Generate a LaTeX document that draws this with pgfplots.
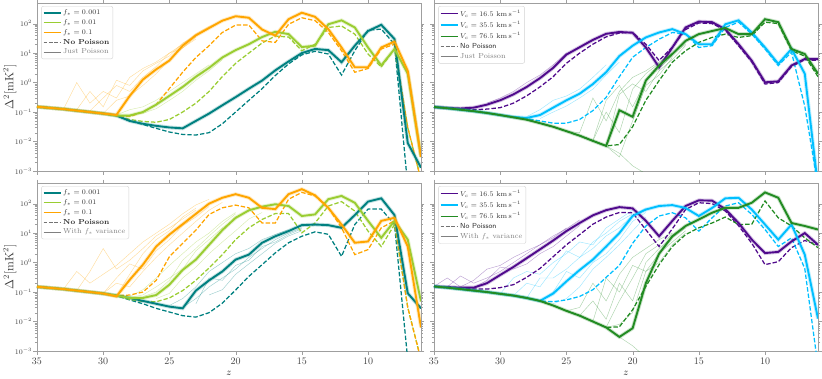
\documentclass[border=0pt]{standalone}
\usepackage{pgfplots}
\usepackage{pgfplotstable}
\pgfplotsset{compat=1.18}
\definecolor{cteal}{RGB}{0,128,128}
\definecolor{cygreen}{RGB}{154,205,50}
\definecolor{corange}{RGB}{255,165,0}
\definecolor{cpurple}{RGB}{80,10,140}
\definecolor{ccyan}{RGB}{0,191,255}
\definecolor{cgreen}{RGB}{34,139,34}

\pgfplotstableread{
z ts td gs gd os od
35 0.151 0.151 0.151 0.151 0.151 0.151
34 0.138 0.138 0.138 0.138 0.138 0.138
33 0.126 0.126 0.126 0.126 0.126 0.126
32 0.112 0.112 0.112 0.112 0.112 0.112
31 0.100 0.100 0.100 0.100 0.100 0.100
30 0.089 0.089 0.089 0.089 0.089 0.089
29 0.076 0.076 0.076 0.076 0.080 0.076
28 0.050 0.050 0.076 0.056 0.35 0.070
27 0.040 0.038 0.10 0.048 1.26 0.10
26 0.034 0.028 0.178 0.045 2.8 0.178
25 0.030 0.021 0.355 0.056 5.6 0.63
24 0.028 0.0174 0.71 0.10 17.8 2.24
23 0.050 0.0166 1.58 0.20 40 7.1
22 0.089 0.020 3.16 0.50 71 17.8
21 0.17 0.040 7.1 1.6 126 50
20 0.32 0.10 12.6 4.5 178 89
19 0.62 0.25 20 10 158 89
18 1.17 0.62 35 22 63 26
17 2.6 1.74 53 38 39 23
16 5.2 4.3 44 35 141 95
15 10 8.7 16 12 234 158
14 13.8 11.5 17.8 20 170 126
13 12.6 9.3 95 74 65 50
12 4.9 1.8 129 83 15.5 12
11 17.8 12 74 44 3.3 2.24
10 56 60 15.5 9.3 3.3 3.0
9 91 65 3.8 3.4 15.5 13.8
8 30 20 13.8 13.8 24.5 20
7 0.0089 0.0003 2.0 0.03 2.5 0.03
6 0.0013 0.0003 0.003 0.0005 0.003 0.0005
}\tabTL

\pgfplotstableread{
z ps pd cs cd gs gd
35 0.148 0.148 0.148 0.148 0.148 0.148
34 0.138 0.138 0.135 0.135 0.135 0.135
33 0.132 0.126 0.12 0.12 0.12 0.12
32 0.141 0.12 0.107 0.107 0.107 0.107
31 0.178 0.126 0.093 0.093 0.093 0.093
30 0.251 0.141 0.079 0.079 0.079 0.079
29 0.398 0.20 0.068 0.068 0.066 0.066
28 0.71 0.355 0.063 0.06 0.055 0.055
27 1.41 0.71 0.079 0.05 0.042 0.042
26 3.16 1.58 0.141 0.042 0.0316 0.0316
25 8.9 4.5 0.25 0.042 0.0224 0.0224
24 15.8 10 0.42 0.056 0.0158 0.0158
23 28 20 0.89 0.112 0.0105 0.0105
22 45 35.5 2.24 0.316 0.0071 0.0071
21 52 48 7.9 1.58 0.115 0.0079
20 49 50 17.8 7.2 0.069 0.0316
19 15.5 20 34 15.5 1.17 0.25
18 3.3 5.6 50 29.5 3.8 1.17
17 15.5 15.8 65 50 9.3 4.9
16 74 63 44 44 26 12
15 117 105 20 15.5 44 23
14 112 100 20 17.8 56 34
13 65 60 95 74 71 44
12 20 17.8 129 112 44 34
11 5.5 5.0 50 44 44 39
10 1.02 0.89 15.5 13.8 141 112
9 1.1 1.0 4.3 3.8 112 100
8 3.8 3.5 13.8 10.7 13.8 12
7 6.3 6.0 2.0 0.158 9.3 7.9
6 6.3 5.6 0.0003 0.0003 2.0 1.58
}\tabTR

\pgfplotstableread{
z ts td gs gd os od
35 0.151 0.151 0.151 0.151 0.151 0.151
34 0.138 0.138 0.138 0.138 0.138 0.138
33 0.126 0.126 0.126 0.126 0.126 0.126
32 0.112 0.112 0.112 0.112 0.112 0.112
31 0.100 0.100 0.100 0.100 0.100 0.100
30 0.089 0.089 0.089 0.089 0.089 0.089
29 0.076 0.076 0.076 0.076 0.071 0.076
28 0.063 0.054 0.063 0.056 0.26 0.079
27 0.050 0.040 0.063 0.048 0.85 0.10
26 0.040 0.028 0.079 0.047 3.5 0.25
25 0.032 0.021 0.178 0.063 8.9 1.58
24 0.028 0.0158 0.56 0.112 20 4.5
23 0.112 0.0141 1.26 0.25 45 12.6
22 0.25 0.020 4.0 0.66 100 43
21 0.50 0.042 12.6 1.86 158 72
20 1.26 0.117 33 6.0 209 89
19 1.86 0.34 59 15.1 158 72
18 4.7 0.85 79 29 72 22
17 7.8 2.14 95 46 65 22
16 11.7 4.7 83 46 209 141
15 18.6 7.8 38 10.2 309 240
14 19.5 11 43 22 191 182
13 18.6 9.1 141 83 72 72
12 15.1 1.62 182 117 19.5 15.1
11 40.7 19.5 107 56 4.7 1.86
10 117 65 26 11.7 5.2 2.75
9 151 65 6.9 3.5 26 15.1
8 40.7 19.5 26 19.5 33 26
7 0.091 0.0005 6.0 0.03 3.5 0.03
6 0.028 0.0003 0.048 0.0005 0.0063 0.0005
}\tabBL

\pgfplotstableread{
z ps pd cs cd gs gd
35 0.155 0.155 0.155 0.155 0.155 0.155
34 0.148 0.145 0.141 0.141 0.141 0.141
33 0.141 0.135 0.126 0.126 0.126 0.126
32 0.141 0.126 0.112 0.112 0.112 0.112
31 0.20 0.126 0.10 0.10 0.10 0.10
30 0.38 0.141 0.087 0.087 0.087 0.087
29 0.71 0.178 0.076 0.076 0.076 0.076
28 1.41 0.316 0.063 0.063 0.063 0.063
27 2.8 0.63 0.05 0.05 0.05 0.05
26 5.6 1.58 0.089 0.047 0.035 0.035
25 11.7 4.0 0.23 0.054 0.023 0.023
24 22 8.9 0.56 0.071 0.0158 0.0158
23 40 20 1.26 0.12 0.010 0.010
22 60 35 3.5 0.316 0.0063 0.0063
21 76 50 10 0.8 0.003 0.0066
20 69 49 38 4.5 0.0059 0.025
19 26 13 63 17.4 0.2 0.155
18 7.8 3.5 83 38 2.0 0.85
17 26 14 89 49 7.8 3.5
16 83 63 71 33 17.4 8.9
15 129 107 38 11.7 29 15.1
14 126 100 71 33 49 22
13 65 56 151 83 72 35
12 22 17.8 158 107 72 19.5
11 6.0 4.5 63 43 107 20
10 2.1 0.85 19.5 13.2 240 123
9 2.3 1.07 6.0 3.5 158 33
8 5.2 3.2 19.5 6.9 22 17.4
7 10 5.6 1.86 0.63 17.4 6.9
6 4.0 4.0 0.0126 0.0003 13.2 3.2
}\tabBR

\newcommand\mySolid[3]{%
  \addplot[#1, line width=3.8pt, opacity=0.24, forget plot] table[x=z,y=#3]{#2};
  \addplot[#1, line width=1.9pt, forget plot] table[x=z,y=#3]{#2};}
\newcommand\myDash[3]{%
  \addplot[#1, line width=1.25pt, dash pattern=on 4.4pt off 2pt, forget plot] table[x=z,y=#3]{#2};}
\tikzset{faint/.style={line width=0.45pt, opacity=0.38}}

\begin{document}
\begin{tikzpicture}
\path[use as bounding box] (-37pt,-27pt) rectangle (785pt,351pt);

%% ---------------- Top left ----------------
\begin{axis}[width=384pt, height=168pt, scale only axis, anchor=south west, at={(0pt,180pt)},
    xmin=6, xmax=35, x dir=reverse, ymode=log, ymin=1e-3, ymax=500,
    xtick={10,15,20,25,30,35}, ytick={1e-3,1e-2,1e-1,1,10,100}, xticklabels={},
    tick align=outside, major tick length=3.5pt, minor tick length=2pt,
    axis line style={gray!75}, tick style={gray!75},
    tick label style={text=black!75},
    yticklabel style={font=\fontsize{7}{8}\selectfont, inner sep=1.2pt},
    legend cell align=left,
    legend style={at={(0.011,0.982)}, anchor=north west, draw=gray!35,
      rounded corners=2pt, font=\fontsize{7.3}{8.6}\selectfont, text=black!80,
      inner sep=1.5pt, row sep=-0.6pt},
    ylabel={$\Delta^2[\mathrm{mK}^2]$},
    ylabel style={font=\fontsize{11.5}{13}\selectfont, text=black!80, at={(axis description cs:-0.071,0.5)}, anchor=center}]
\addlegendimage{cteal, line width=1.2pt}\addlegendentry{$f_* = 0.001$}
\addlegendimage{cygreen, line width=1.2pt}\addlegendentry{$f_* = 0.01$}
\addlegendimage{corange, line width=1.2pt}\addlegendentry{$f_* = 0.1$}
\addlegendimage{gray!90!black, line width=1.1pt, dash pattern=on 3.6pt off 1.8pt}\addlegendentry{\textbf{No Poisson}}
\addlegendimage{gray, line width=1.2pt}\addlegendentry{\textcolor{gray}{Just Poisson}}
\addplot[faint, corange, forget plot] coordinates {(35,0.151)(34,0.138)(33,0.126)(32,1.0)(31,0.2)(30,0.5)(29,0.3)(28,1.5)(27,3)(26,5)(25,10)(24,20)(23,45)(22,80)(21,120)};
\addplot[faint, corange, forget plot] coordinates {(34,0.138)(33,0.13)(32,0.12)(31,0.5)(30,0.15)(29,1.2)(28,0.8)(27,2.5)(26,4.5)(25,8)(24,22)(23,38)(22,75)};
\addplot[faint, corange, forget plot] coordinates {(33,0.126)(32,0.112)(31,0.11)(30,0.3)(29,0.8)(28,0.5)(27,1.5)(26,3.5)(25,10)(24,15)(23,35)};
\addplot[faint, corange, forget plot] coordinates {(31,0.1)(30,0.09)(29,0.25)(28,0.35)(27,0.8)(26,2.0)(25,6)(24,15)(23,30)};
\addplot[faint, cygreen, forget plot] coordinates {(29,0.08)(28,0.12)(27,0.15)(26,0.25)(25,0.5)(24,1.0)(23,2)(22,4)};
\addplot[faint, cygreen, forget plot] coordinates {(28,0.08)(27,0.09)(26,0.13)(25,0.25)(24,0.5)(23,1.2)(22,2.5)(21,6)};
\myDash{cteal}{\tabTL}{td}
\myDash{cygreen}{\tabTL}{gd}
\myDash{corange}{\tabTL}{od}
\mySolid{cteal}{\tabTL}{ts}
\mySolid{cygreen}{\tabTL}{gs}
\mySolid{corange}{\tabTL}{os}
\end{axis}

%% ---------------- Top right ----------------
\begin{axis}[width=384pt, height=168pt, scale only axis, anchor=south west, at={(397pt,180pt)},
    xmin=6, xmax=35, x dir=reverse, ymode=log, ymin=1e-3, ymax=500,
    xtick={10,15,20,25,30,35}, ytick={1e-3,1e-2,1e-1,1,10,100}, xticklabels={}, yticklabels={},
    tick align=outside, major tick length=3.5pt, minor tick length=2pt,
    axis line style={gray!75}, tick style={gray!75},
    tick label style={text=black!75},
    legend cell align=left,
    legend style={at={(0.011,0.982)}, anchor=north west, draw=gray!35,
      rounded corners=2pt, font=\fontsize{7.3}{8.6}\selectfont, text=black!80,
      inner sep=1.5pt, row sep=-0.6pt}]
\addlegendimage{cpurple, line width=1.2pt}\addlegendentry{$V_c = 16.5\ \mathrm{km\,s^{-1}}$}
\addlegendimage{ccyan, line width=1.2pt}\addlegendentry{$V_c = 35.5\ \mathrm{km\,s^{-1}}$}
\addlegendimage{cgreen, line width=1.2pt}\addlegendentry{$V_c = 76.5\ \mathrm{km\,s^{-1}}$}
\addlegendimage{gray!90!black, line width=1.1pt, dash pattern=on 3.6pt off 1.8pt}\addlegendentry{\textsf{No Poisson}}
\addlegendimage{gray, line width=1.2pt}\addlegendentry{\textcolor{gray}{Just Poisson}}
\addplot[faint, cgreen, forget plot] coordinates {(25,0.022)(24,0.02)(23,0.3)(22,0.05)(21,0.5)(20,1.5)(19,2.5)(18,5)(17,10)};
\addplot[faint, cgreen, forget plot] coordinates {(24,0.016)(23,0.011)(22,0.25)(21,0.8)(20,0.15)(19,1.2)(18,3)(17,8)};
\addplot[faint, cgreen, forget plot] coordinates {(23,0.0105)(22,0.1)(21,0.02)(20,0.6)(19,2)(18,4.5)(17,9)(16,20)};
\addplot[faint, cgreen, forget plot] coordinates {(22,0.0071)(21,0.4)(20,0.9)(19,0.5)(18,2.5)(17,6)(16,18)};
\addplot[faint, cgreen, forget plot] coordinates {(22,0.007)(21,0.003)(20,0.05)(19,0.8)(18,1.8)(17,7)};
\addplot[faint, cgreen, forget plot] coordinates {(22,0.0071)(21,0.004)(20,0.0015)(19,0.0008)};
\addplot[faint, ccyan, forget plot] coordinates {(28,0.07)(27,0.12)(26,0.25)(25,0.35)(24,0.6)(23,1.5)(22,4)};
\addplot[faint, ccyan, forget plot] coordinates {(27,0.06)(26,0.1)(25,0.16)(24,0.3)(23,0.6)(22,1.8)(21,5)};
\addplot[faint, cpurple, forget plot] coordinates {(31,0.2)(30,0.3)(29,0.5)(28,1.0)(27,1.8)(26,4)(25,10)};
\myDash{cpurple}{\tabTR}{pd}
\myDash{ccyan}{\tabTR}{cd}
\myDash{cgreen}{\tabTR}{gd}
\mySolid{cpurple}{\tabTR}{ps}
\mySolid{ccyan}{\tabTR}{cs}
\mySolid{cgreen}{\tabTR}{gs}
\end{axis}

%% ---------------- Bottom left ----------------
\begin{axis}[width=384pt, height=168pt, scale only axis, anchor=south west, at={(0pt,0pt)},
    xmin=6, xmax=35, x dir=reverse, ymode=log, ymin=1e-3, ymax=500,
    xtick={10,15,20,25,30,35}, ytick={1e-3,1e-2,1e-1,1,10,100},
    tick align=outside, major tick length=3.5pt, minor tick length=2pt,
    axis line style={gray!75}, tick style={gray!75},
    tick label style={text=black!75},
    yticklabel style={font=\fontsize{7}{8}\selectfont, inner sep=1.2pt},
    legend cell align=left,
    legend style={at={(0.011,0.982)}, anchor=north west, draw=gray!35,
      rounded corners=2pt, font=\fontsize{7.3}{8.6}\selectfont, text=black!80,
      inner sep=1.5pt, row sep=-0.6pt},
    xlabel={$z$},
    ylabel={$\Delta^2[\mathrm{mK}^2]$},
    ylabel style={font=\fontsize{11.5}{13}\selectfont, text=black!80, at={(axis description cs:-0.071,0.5)}, anchor=center}]
\addlegendimage{cteal, line width=1.2pt}\addlegendentry{$f_* = 0.001$}
\addlegendimage{cygreen, line width=1.2pt}\addlegendentry{$f_* = 0.01$}
\addlegendimage{corange, line width=1.2pt}\addlegendentry{$f_* = 0.1$}
\addlegendimage{gray!90!black, line width=1.1pt, dash pattern=on 3.6pt off 1.8pt}\addlegendentry{\textbf{No Poisson}}
\addlegendimage{gray, line width=1.2pt}\addlegendentry{\textcolor{gray}{With $f_*$ variance}}
\addplot[faint, corange, forget plot] coordinates {(34,0.14)(33,0.126)(32,0.5)(31,0.2)(30,0.4)(29,0.8)(28,2)(27,5)(26,10)(25,20)(24,45)(23,90)(22,140)};
\addplot[faint, corange, forget plot] coordinates {(32,0.112)(31,0.5)(30,3.0)(29,0.6)(28,1.2)(27,3)(26,8)(25,15)(24,30)(23,60)};
\addplot[faint, corange, forget plot] coordinates {(31,0.1)(30,0.09)(29,0.3)(28,0.9)(27,0.6)(26,2.5)(25,6)(24,18)(23,35)(22,80)};
\addplot[faint, corange, forget plot] coordinates {(30,0.09)(29,0.2)(28,0.15)(27,0.5)(26,1.5)(25,4)(24,10)(23,25)(22,60)(21,110)};
\addplot[faint, corange, forget plot] coordinates {(29,0.076)(28,0.4)(27,2)(26,6)(25,12)(24,35)(23,70)};
\addplot[faint, cygreen, forget plot] coordinates {(28,0.07)(27,0.12)(26,0.3)(25,0.8)(24,2)(23,5)(22,10)(21,25)(20,50)};
\addplot[faint, cygreen, forget plot] coordinates {(28,0.065)(27,0.08)(26,0.15)(25,0.3)(24,0.6)(23,2.5)(22,6)(21,15)(20,30)(19,60)};
\addplot[faint, cygreen, forget plot] coordinates {(27,0.07)(26,0.1)(25,0.25)(24,1.2)(23,3)(22,8)(21,20)(20,45)};
\addplot[faint, cygreen, forget plot] coordinates {(26,0.06)(25,0.09)(24,0.3)(23,0.7)(22,2)(21,5)(20,12)(19,30)(18,50)};
\addplot[faint, cteal, forget plot] coordinates {(25,0.035)(24,0.06)(23,0.15)(22,0.5)(21,1.0)(20,2.0)(19,3)(18,6)(17,9)(16,13)};
\addplot[faint, cteal, forget plot] coordinates {(24,0.03)(23,0.06)(22,0.15)(21,0.3)(20,0.6)(19,1.5)(18,3)(17,6)(16,10)(15,15)};
\addplot[faint, cteal, forget plot] coordinates {(23,0.04)(22,0.3)(21,0.25)(20,0.8)(19,1.2)(18,3.5)(17,5)(16,9)(15,14)};
\addplot[faint, cteal, forget plot] coordinates {(22,0.08)(21,0.12)(20,0.4)(19,0.9)(18,2)(17,4.5)(16,8)(15,12)};
\myDash{cteal}{\tabBL}{td}
\myDash{cygreen}{\tabBL}{gd}
\myDash{corange}{\tabBL}{od}
\mySolid{cteal}{\tabBL}{ts}
\mySolid{cygreen}{\tabBL}{gs}
\mySolid{corange}{\tabBL}{os}
\end{axis}

%% ---------------- Bottom right ----------------
\begin{axis}[width=384pt, height=168pt, scale only axis, anchor=south west, at={(397pt,0pt)},
    xmin=6, xmax=35, x dir=reverse, ymode=log, ymin=1e-3, ymax=500,
    xtick={10,15,20,25,30,35}, ytick={1e-3,1e-2,1e-1,1,10,100}, yticklabels={},
    tick align=outside, major tick length=3.5pt, minor tick length=2pt,
    axis line style={gray!75}, tick style={gray!75},
    tick label style={text=black!75},
    legend cell align=left,
    legend style={at={(0.011,0.982)}, anchor=north west, draw=gray!35,
      rounded corners=2pt, font=\fontsize{7.3}{8.6}\selectfont, text=black!80,
      inner sep=1.5pt, row sep=-0.6pt},
    xlabel={$z$}]
\addlegendimage{cpurple, line width=1.2pt}\addlegendentry{$V_c = 16.5\ \mathrm{km\,s^{-1}}$}
\addlegendimage{ccyan, line width=1.2pt}\addlegendentry{$V_c = 35.5\ \mathrm{km\,s^{-1}}$}
\addlegendimage{cgreen, line width=1.2pt}\addlegendentry{$V_c = 76.5\ \mathrm{km\,s^{-1}}$}
\addlegendimage{gray!90!black, line width=1.1pt, dash pattern=on 3.6pt off 1.8pt}\addlegendentry{\textsf{No Poisson}}
\addlegendimage{gray, line width=1.2pt}\addlegendentry{\textcolor{gray}{With $f_*$ variance}}
\addplot[faint, cpurple, forget plot] coordinates {(35,0.155)(34,0.3)(33,0.15)(32,0.25)(31,0.6)(30,0.8)(29,1.5)(28,2.5)(27,4)(26,7)(25,15)};
\addplot[faint, cpurple, forget plot] coordinates {(34,0.15)(33,0.35)(32,0.2)(31,0.3)(30,0.5)(29,1.0)(28,2)(27,4)(26,8)(25,14)(24,28)};
\addplot[faint, cpurple, forget plot] coordinates {(32,0.14)(31,0.25)(30,0.7)(29,0.6)(28,0.9)(27,2)(26,3.5)(25,8)(24,18)};
\addplot[faint, ccyan, forget plot] coordinates {(30,0.087)(29,0.3)(28,0.5)(27,0.4)(26,1.0)(25,2)(24,5)(23,4)(22,15)(21,30)(20,60)};
\addplot[faint, ccyan, forget plot] coordinates {(29,0.076)(28,0.2)(27,0.15)(26,0.6)(25,2.5)(24,1.5)(23,5)(22,10)(21,25)(20,45)};
\addplot[faint, ccyan, forget plot] coordinates {(28,0.063)(27,0.3)(26,0.3)(25,0.6)(24,1.5)(23,3)(22,8)(21,15)(20,40)(19,70)};
\addplot[faint, ccyan, forget plot] coordinates {(27,0.05)(26,0.1)(25,0.5)(24,0.3)(23,1)(22,2)(21,6)(20,25)(19,50)};
\addplot[faint, ccyan, forget plot] coordinates {(26,0.04)(25,0.06)(24,0.15)(23,0.6)(22,1.5)(21,4)(20,12)(19,35)};
\addplot[faint, cgreen, forget plot] coordinates {(25,0.023)(24,0.03)(23,0.2)(22,0.05)(21,0.4)(20,1.5)(19,3)(18,6)(17,10)};
\addplot[faint, cgreen, forget plot] coordinates {(24,0.016)(23,0.05)(22,0.012)(21,0.2)(20,0.05)(19,1)(18,3)(17,7)(16,15)};
\addplot[faint, cgreen, forget plot] coordinates {(23,0.01)(22,0.3)(21,0.1)(20,0.8)(19,0.5)(18,2)(17,5)(16,12)};
\addplot[faint, cgreen, forget plot] coordinates {(22,0.0063)(21,0.05)(20,0.3)(19,2)(18,4)(17,9)};
\addplot[faint, cgreen, forget plot] coordinates {(21,0.003)(20,0.0015)(19,0.0006)};
\addplot[faint, cgreen, forget plot] coordinates {(22,0.0063)(21,0.008)(20,0.02)(19,0.5)(18,1)(17,4)(16,10)};
\myDash{cpurple}{\tabBR}{pd}
\myDash{ccyan}{\tabBR}{cd}
\myDash{cgreen}{\tabBR}{gd}
\mySolid{cpurple}{\tabBR}{ps}
\mySolid{ccyan}{\tabBR}{cs}
\mySolid{cgreen}{\tabBR}{gs}
\end{axis}
\end{tikzpicture}
\end{document}
